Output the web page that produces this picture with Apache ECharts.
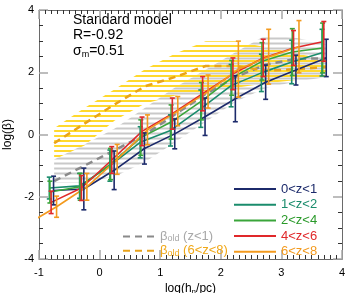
<!DOCTYPE html>
<html><head><meta charset="utf-8">
<script src="https://cdn.jsdelivr.net/npm/echarts@6/dist/echarts.min.js"></script>
<style>html,body{margin:0;padding:0;background:#fff}#c{width:357px;height:293px}</style>
</head><body><div id="c"></div>
<script>
// ---------- data ----------
const seriesNames = ['0<z<1','1<z<2','2<z<4','4<z<6','6<z<8'];

const navyX = [-0.76,-0.26,0.24,0.74,1.24,1.74,2.24,2.74,3.24,3.74];
const navyY = [-1.80,-1.75,-1.15,-0.45,0.02,0.57,1.15,1.68,2.07,2.46];
const navyErr = [0.46,0.67,0.62,0.50,0.48,0.60,0.74,0.55,0.48,0.60];

const tealX = [-0.83,-0.33,0.17,0.67,1.17,1.67,2.17,2.67,3.17,3.67];
const tealY = [-1.72,-1.65,-1.00,-0.25,0.13,0.83,1.57,1.98,2.33,2.63];
const tealErr = [0.35,0.40,0.50,0.50,0.50,0.60,0.68,0.60,0.70,0.75];

const greenX = [-0.82,-0.32,0.18,0.68,1.18,1.68,2.18,2.68,3.18,3.68];
const greenY = [-1.85,-1.68,-0.95,-0.10,0.40,1.07,1.82,2.35,2.65,2.78];
const greenErr = [0.35,0.43,0.50,0.57,0.55,0.60,0.56,0.60,0.75,0.80];

const redX = [-0.80,-0.30,0.20,0.70,1.20,1.70,2.20,2.70,3.20,3.70];
const redY = [-2.18,-1.72,-0.82,0.10,0.67,1.31,1.95,2.46,2.78,2.99];
const redErr = [0.36,0.40,0.43,0.46,0.50,0.55,0.51,0.60,0.56,0.64];

const orangeX = [-1.21,-0.71,-0.21,0.29,0.79,1.29,1.79,2.29,2.79,3.29];
const orangeY = [-2.90,-2.32,-1.68,-0.80,0.15,0.75,1.38,2.10,2.50,2.82];
const orangeErr = [null,0.34,0.43,0.48,0.48,0.47,0.53,0.90,0.88,0.84];

// beta_old bands
const bandX = [-0.75,-0.25,0.25,0.75,1.25,1.75,2.25,2.75,3.25,3.75];
const goldMid = [-0.28,0.35,0.97,1.55,1.85,2.20,2.20,2.05,2.10,2.17];
const goldHi  = [0.20,0.85,1.45,2.10,2.60,3.00,3.00,2.80,2.60,2.40];
const goldLo  = [-0.80,-0.35,0.45,1.00,1.25,1.40,1.50,1.65,1.75,1.75];
const grayMid = [-1.50,-1.00,-0.50,0.00,0.65,1.30,1.85,2.25,2.43,2.45];
const grayHi  = [-0.80,-0.32,0.19,0.86,1.52,2.08,2.65,3.20,3.10,2.90];
const grayLo  = [-1.55,-1.55,-1.35,-0.88,-0.24,0.41,1.06,1.50,1.70,1.85];

const xTicks = [-1,0,1,2,3,4];
const yTicks = [-4,-2,0,2,4];

// ---------- styling ----------
const FONT = '"Liberation Sans", Arial, sans-serif';
const lineColors = ['#1c2a6b','#1a8c6c','#3aa53a','#e0282a','#f39a1e'];
const textColors = ['#1c2a6b','#1a8c6c','#2a9a2a','#e0282a','#f39a1e'];
const goldDash = '#e9a31a', grayDash = '#8a8a8a';

function stripes(color, offset){
  const c = document.createElement('canvas');
  c.width = 8; c.height = 5;
  const g = c.getContext('2d');
  g.fillStyle = color;
  g.fillRect(0, offset, 8, 2);
  return {image: c, repeat: 'repeat'};
}
const goldPattern = stripes('#ffd92e', 0);
const grayPattern = stripes('#c9c9c9', 2.5);

function bandSeries(lo, hi, pattern, z){
  return {
    type:'custom', silent:true, z:z,
    data: bandX.map((x,i)=>[x, lo[i], hi[i]]),
    encode:{x:0, y:[1,2]},
    renderItem:function(params, api){
      if (params.dataIndex !== 0) return null;
      const pts = [];
      for (let i=0;i<bandX.length;i++) pts.push(api.coord([bandX[i], hi[i]]));
      for (let i=bandX.length-1;i>=0;i--) pts.push(api.coord([bandX[i], lo[i]]));
      return {type:'polygon', shape:{points:pts}, style:{fill:pattern, stroke:null}};
    }
  };
}

function errSeries(xs, ys, es, color, name){
  const data = [];
  xs.forEach((x,i)=>{ if (es[i] != null) data.push([x, ys[i], es[i]]); });
  return {
    type:'custom', name:name, silent:true, z:5,
    data:data, encode:{x:0, y:1},
    renderItem:function(params, api){
      const x = api.value(0), y = api.value(1), e = api.value(2);
      const t = api.coord([x, y+e]), b = api.coord([x, y-e]);
      const cw = 2.5, st = {stroke:color, lineWidth:1.6};
      return {type:'group', children:[
        {type:'line', shape:{x1:t[0],y1:t[1],x2:b[0],y2:b[1]}, style:st},
        {type:'line', shape:{x1:t[0]-cw,y1:t[1],x2:t[0]+cw,y2:t[1]}, style:st},
        {type:'line', shape:{x1:b[0]-cw,y1:b[1],x2:b[0]+cw,y2:b[1]}, style:st}
      ]};
    }
  };
}

function lineSeries(name, xs, ys, color){
  return {
    type:'line', name:name, z:4, symbol:'none', showSymbol:false, silent:true,
    data: xs.map((x,i)=>[x, ys[i]]),
    lineStyle:{color:color, width:1.6}, itemStyle:{color:color}
  };
}

const allX = [navyX, tealX, greenX, redX, orangeX];
const allY = [navyY, tealY, greenY, redY, orangeY];
const allE = [navyErr, tealErr, greenErr, redErr, orangeErr];

const series = [
  bandSeries(goldLo, goldHi, goldPattern, 1),
  bandSeries(grayLo, grayHi, grayPattern, 2),
  {type:'line', name:'old1', z:3, symbol:'none', silent:true,
   data: bandX.map((x,i)=>[x, grayMid[i]]),
   lineStyle:{color:grayDash, width:2.5, type:[7,5]}, itemStyle:{color:grayDash}},
  {type:'line', name:'old2', z:3, symbol:'none', silent:true,
   data: bandX.map((x,i)=>[x, goldMid[i]]),
   lineStyle:{color:goldDash, width:2.5, type:[7,5]}, itemStyle:{color:goldDash}}
];
for (let k=0;k<5;k++){
  series.push(errSeries(allX[k], allY[k], allE[k], lineColors[k], 'err'+k));
}
for (let k=0;k<5;k++){
  series.push(lineSeries(seriesNames[k], allX[k], allY[k], lineColors[k]));
}

const axisLineSt = {show:true, onZero:false, lineStyle:{color:'#6a6a6a', width:1}};
const majorTick = {show:true, inside:true, length:9, lineStyle:{color:'#a8a8a8', width:1.5}};
function xAx(pos, labels){
  return {
    type:'value', min:xTicks[0], max:xTicks[xTicks.length-1], interval:1, position:pos,
    axisLine:axisLineSt, axisTick:majorTick,
    minorTick:{show:true, splitNumber:10, length:4, lineStyle:{color:'#333', width:1}},
    splitLine:{show:false},
    axisLabel:{show:labels, color:'#000', fontSize:11, fontFamily:FONT, margin:8},
    name: labels ? 'log(h{s|n}/pc)' : '', nameLocation:'middle', nameGap:22,
    nameTextStyle:{color:'#000', fontSize:12, fontFamily:FONT,
      rich:{s:{fontSize:8, fontFamily:FONT, padding:[6,0,0,0]}}}
  };
}
function yAx(pos, labels){
  return {
    type:'value', min:yTicks[0], max:yTicks[yTicks.length-1], interval:2, position:pos,
    axisLine:axisLineSt, axisTick:majorTick,
    minorTick:{show:true, splitNumber:4, length:4, lineStyle:{color:'#333', width:1}},
    splitLine:{show:false},
    axisLabel:{show:labels, color:'#000', fontSize:11, fontFamily:FONT, margin:5},
    name: labels ? 'log(β)' : '', nameLocation:'middle', nameGap:23,
    nameTextStyle:{color:'#000', fontSize:12, fontFamily:FONT}
  };
}

const option = {
  animation:false,
  backgroundColor:'#fff',
  grid:{left:39, right:15, top:10, bottom:34, containLabel:false, outerBoundsMode:'none'},
  xAxis:[xAx('bottom', true), xAx('top', false)],
  yAxis:[yAx('left', true), yAx('right', false)],
  legend:[{
    data: seriesNames.map((n,i)=>({name:n, textStyle:{color:textColors[i]}})),
    orient:'vertical', left:233, top:182, padding:0,
    itemWidth:42, itemHeight:14, itemGap:1.7,
    itemStyle:{opacity:0},
    textStyle:{fontSize:13, fontFamily:FONT, lineHeight:14}, selectedMode:false
  },{
    data:[{name:'old1', textStyle:{color:'#a8a8a8'}}, {name:'old2', textStyle:{color:'#f0a818'}}],
    formatter:function(n){ return n==='old1' ? 'β{s|old} (z<1)' : 'β{s|old} (6<z<8)'; },
    orient:'vertical', left:122, top:229.5, padding:0,
    itemWidth:32, itemHeight:14, itemGap:0.3,
    itemStyle:{opacity:0},
    textStyle:{fontSize:13, fontFamily:FONT, lineHeight:14,
      rich:{s:{fontSize:9, fontFamily:FONT, lineHeight:14, padding:[5,0,0,0]}}},
    selectedMode:false
  }],
  graphic:[
    {type:'text', x:73, y:13, style:{text:'Standard model', font:'14px '+FONT, fill:'#000', verticalAlign:'top'}},
    {type:'text', x:73, y:28, style:{text:'R=-0.92', font:'14px '+FONT, fill:'#000', verticalAlign:'top'}},
    {type:'text', x:73, y:43, style:{text:'σ{s|m}=0.51', font:'14px '+FONT, fill:'#000', verticalAlign:'top',
      rich:{s:{font:'9px '+FONT, padding:[7,0,0,0]}}}}
  ],
  series:series
};
const chart = echarts.init(document.getElementById('c'), null, {renderer:'canvas'});
chart.setOption(option);
</script>
</body></html>
